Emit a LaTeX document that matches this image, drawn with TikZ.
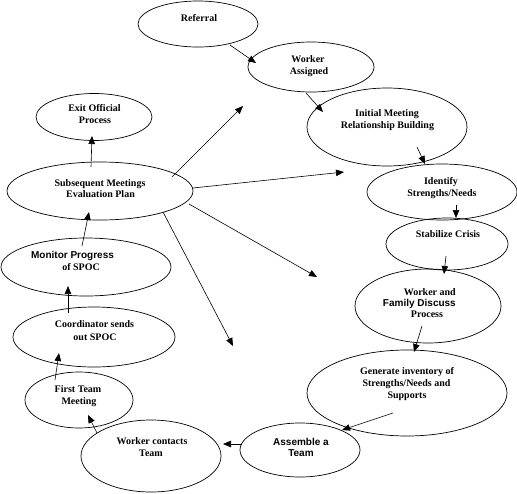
\documentclass[tikz,border=0pt]{standalone}
\usepackage{fontspec}
\setmainfont{Liberation Serif}
\newfontfamily\arialf{Liberation Sans}
\usetikzlibrary{arrows.meta,shapes.geometric}
\begin{document}
\begin{tikzpicture}[x=1pt,y=-1pt,
 oval/.style={draw, ellipse, inner sep=0pt, line width=0.7pt},
 lbl/.style={anchor=base, inner sep=0pt, font=\bfseries\fontsize{10}{12}\selectfont},
 slbl/.style={anchor=base, inner sep=0pt, font=\arialf\bfseries\fontsize{10}{12}\selectfont},
 arr/.style={-{Triangle[length=8pt,width=6.5pt]}, line width=0.6pt}]
\useasboundingbox (0,0) rectangle (517,493);
% ellipses
\node[oval, minimum width=120pt, minimum height=46pt] (ref) at (198,24) {};
\node[oval, minimum width=126pt, minimum height=50pt] (wa) at (311,67) {};
\node[oval, minimum width=160pt, minimum height=78pt] (im) at (387,127) {};
\node[oval, minimum width=150pt, minimum height=56pt] (id) at (442,192) {};
\node[oval, minimum width=122pt, minimum height=52pt] (sc) at (447,244) {};
\node[oval, minimum width=146pt, minimum height=74pt] (wf) at (428,306) {};
\node[oval, minimum width=200pt, minimum height=86pt] (gi) at (407,393) {};
\node[oval, minimum width=120pt, minimum height=54pt] (as) at (300,450) {};
\node[oval, minimum width=140pt, minimum height=72pt] (wc) at (151,456) {};
\node[oval, minimum width=108pt, minimum height=56pt] (ft) at (79,400) {};
\node[oval, minimum width=162pt, minimum height=60pt] (co) at (94,337) {};
\node[oval, minimum width=170pt, minimum height=58pt] (mo) at (86,267) {};
\node[oval, minimum width=186pt, minimum height=58pt] (sm) at (100,191) {};
\node[oval, minimum width=116pt, minimum height=47pt] (ex) at (94,117) {};
% labels
\node[lbl] (ref-t1) at (199,21) {Referral};
\node[lbl] (wa-t1) at (308,62.5) {Worker};
\node[lbl] (wa-t2) at (309,74.5) {Assigned};
\node[lbl] (im-t1) at (387,116.5) {Initial Meeting};
\node[lbl] (im-t2) at (387.5,128) {Relationship Building};
\node[lbl] (id-t1) at (441,184.5) {Identify};
\node[lbl] (id-t2) at (442,196.5) {Strengths/Needs};
\node[lbl] (sc-t1) at (448,237.5) {Stabilize Crisis};
\node[lbl, anchor=base east] (wf-t1) at (456,295.5) {Worker and};
\node[slbl, anchor=base east] (wf-t2) at (456,306.5) {Family Discuss};
\node[lbl] (wf-t3) at (427,317.5) {Process};
\node[lbl] (gi-t1) at (407,374.5) {Generate inventory of};
\node[lbl] (gi-t2) at (406.5,386.5) {Strengths/Needs and};
\node[lbl] (gi-t3) at (407,398.5) {Supports};
\node[slbl] (as-t1) at (301,445.5) {Assemble a};
\node[slbl] (as-t2) at (301,456.5) {Team};
\node[lbl] (wc-t1) at (152,444.5) {Worker contacts};
\node[lbl] (wc-t2) at (151,456.5) {Team};
\node[lbl] (ft-t1) at (78,392.5) {First Team};
\node[lbl] (ft-t2) at (79,404.5) {Meeting};
\node[lbl] (co-t1) at (94.5,327.5) {Coordinator sends};
\node[lbl] (co-t2) at (95,340.5) {out SPOC};
\node[slbl] (mo-t1) at (72.5,258.5) {Monitor Progress};
\node[lbl] (mo-t2) at (81,270.5) {of SPOC};
\node[lbl] (sm-t1) at (100,186.5) {Subsequent Meetings};
\node[lbl] (sm-t2) at (100.5,197.5) {Evaluation Plan};
\node[lbl] (ex-t1) at (94.5,111.5) {Exit Official};
\node[lbl] (ex-t2) at (95,123.5) {Process};
% free ends
\coordinate (f1) at (243,106);
\coordinate (f2) at (344,172);
\coordinate (f3) at (317,277);
\coordinate (f4) at (233,346);
% connectors
\draw[arr] ([shift={(32,21)}]ref.center) -- ([shift={(-55,-4)}]wa.center);
\draw[arr] ([shift={(-5,26)}]wa.center) -- ([shift={(-64,-15)}]im.center);
\draw[arr] ([shift={(30,20)}]im.center) -- ([shift={(-17,-28)}]id.center);
\draw[arr] ([shift={(14,13)}]id.center) -- ([shift={(9,-26)}]sc.center);
\draw[arr] ([shift={(-1,12)}]sc.center) -- ([shift={(16,-32)}]wf.center);
\draw[arr] ([shift={(-6,20)}]wf.center) -- ([shift={(7,-41)}]gi.center);
\draw[arr] ([shift={(-14,20)}]gi.center) -- ([shift={(42,-20)}]as.center);
\draw[arr] ([shift={(-58,-6)}]as.center) -- ([shift={(72,-12)}]wc.center);
\draw[arr] ([shift={(-54,-23)}]wc.center) -- ([shift={(9,15)}]ft.center);
\draw[arr] ([shift={(-24,-20)}]ft.center) -- ([shift={(-35,16)}]co.center);
\draw[arr] ([shift={(-26,-24)}]co.center) -- ([shift={(-18,19)}]mo.center);
\draw[arr] ([shift={(-4,-21)}]mo.center) -- ([shift={(-11,21)}]sm.center);
\draw[arr] ([shift={(-9,-24)}]sm.center) -- ([shift={(-2,19)}]ex.center);
\draw[arr] ([shift={(72,-14)}]sm.center) -- (f1);
\draw[arr] ([shift={(93,-3)}]sm.center) -- (f2);
\draw[arr] ([shift={(89,13)}]sm.center) -- (f3);
\draw[arr] ([shift={(63,21)}]sm.center) -- (f4);
\end{tikzpicture}
\end{document}
